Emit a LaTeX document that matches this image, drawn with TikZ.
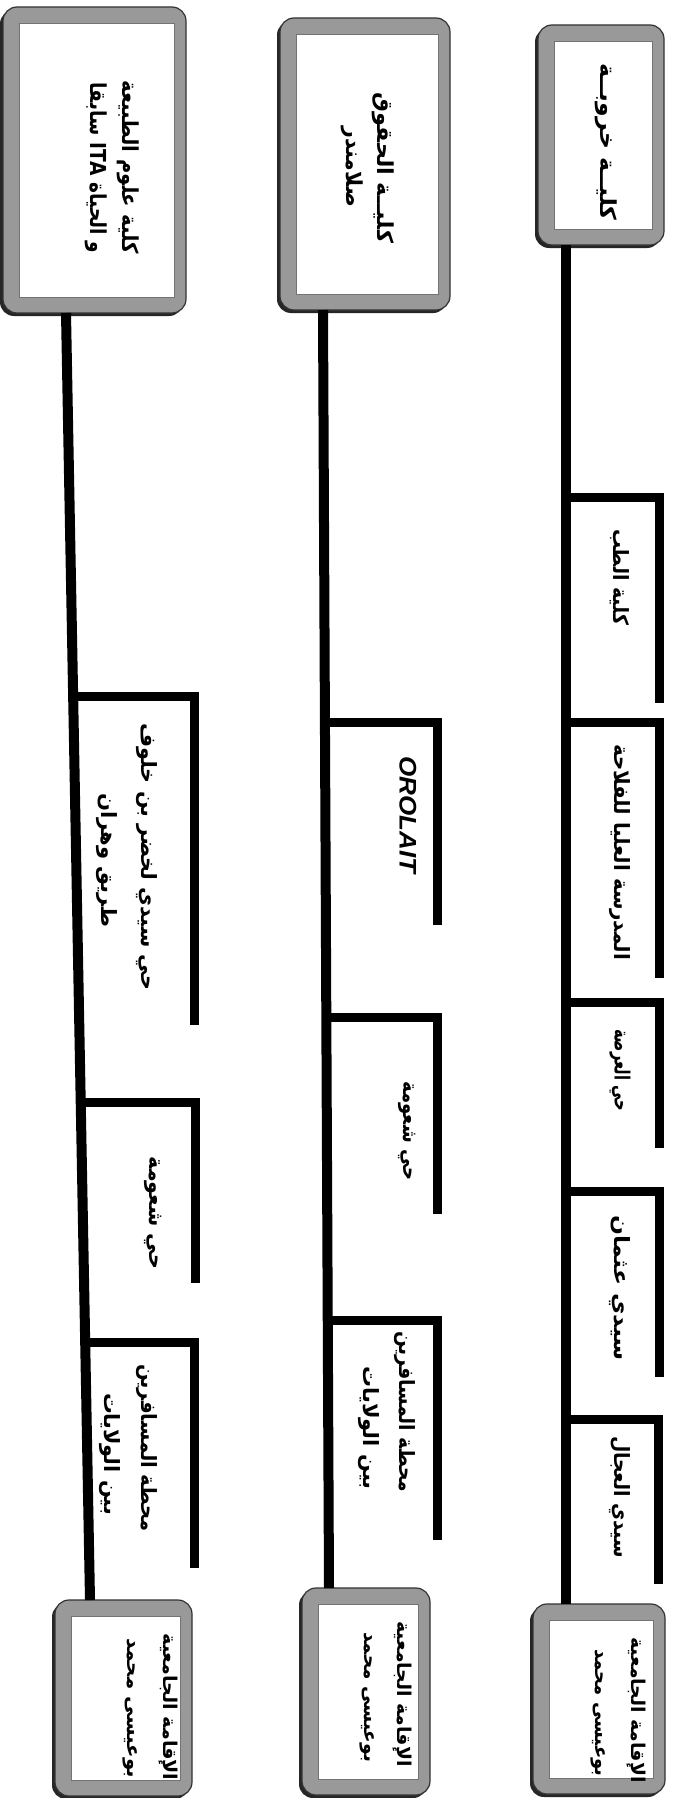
\documentclass[tikz,border=0pt]{standalone}
\usepackage{fontspec}
\usepackage{graphicx}
\TeXXeTstate=1
\newfontfamily\arabicfont[Script=Arabic]{DejaVu Sans}
\newfontfamily\latinfont{Liberation Sans}
\newcommand\ar[1]{\beginR #1\endR}
% stretch a text horizontally to a given length (in pt = px)
\newcommand\fitw[2]{\sbox0{#2}\pgfmathsetmacro\fitsx{#1/\the\wd0}\scalebox{\fitsx}[1]{\usebox0}}
\tikzset{
  frame/.style={draw=black!80, line width=1.2pt, fill=black!40, rounded corners=14pt, inner sep=0pt},
  whitein/.style={draw=black!55, line width=0.8pt, fill=white, inner sep=0pt},
  rail/.style={line width=10pt, black, line cap=butt},
  tick/.style={line width=9pt, black, line cap=butt, line join=miter},
  lbl/.style={rotate=-90, font=\arabicfont\bfseries\fontsize{21}{25}\selectfont, inner sep=0pt},
  toplbl/.style={rotate=-90, font=\arabicfont\bfseries\fontsize{22}{26}\selectfont, inner sep=0pt},
  botlbl/.style={rotate=-90, font=\arabicfont\bfseries\fontsize{19}{23}\selectfont, inner sep=0pt},
  latlbl/.style={rotate=-90, font=\latinfont\bfseries\itshape\fontsize{24}{28}\selectfont, inner sep=0pt},
}
\newcommand\stopbox[5]{%
  \fill[black!85, rounded corners=14pt] ({#2-3},{#3+3}) rectangle ({#4-3},{#5+3});
  \node[frame, minimum width={(#4-#2)*1pt}, minimum height={(#5-#3)*1pt}] (#1) at ({(#2+#4)/2},{(#3+#5)/2}) {};
  \node[whitein, minimum width={(#4-#2-28)*1pt}, minimum height={(#5-#3-32)*1pt}] (#1i) at ({(#2+#4)/2+2},{(#3+#5)/2}) {};
}
\begin{document}
\begin{tikzpicture}[x=1pt,y=-1pt]
\useasboundingbox (0,0) rectangle (679,1798);
\fill[white] (0,0) rectangle (679,1798);

% ---------------- Column A (right) ----------------
\stopbox{tA}{538}{25}{664}{245}
\stopbox{bA}{533}{1604}{665}{1794}
\coordinate (a0) at (566,245);
\coordinate (a9) at (566,1604);
\draw[rail] (a0) -- (a9);
\coordinate (a1s) at (566,497);  \coordinate (a1e) at (659,703);
\coordinate (a2s) at (566,722);  \coordinate (a2e) at (659,978);
\coordinate (a3s) at (566,1002); \coordinate (a3e) at (659,1148);
\coordinate (a4s) at (566,1191); \coordinate (a4e) at (659,1377);
\coordinate (a5s) at (566,1419); \coordinate (a5e) at (658,1584);
\foreach \i in {1,...,5} {\draw[tick] (a\i s) -| (a\i e);}
\node[toplbl] (tAt) at (606,142) {\fitw{157}{\ar{كليــة خروبــة}}};
\node[lbl] (la1) at (620,577) {\fitw{96}{\ar{كلية الطب}}};
\node[lbl] (la2) at (620,852) {\fitw{216}{\ar{المدرسة العليا للفلاحة}}};
\node[lbl] (la3) at (620,1070) {\fitw{82}{\ar{حي العرصة}}};
\node[lbl] (la4) at (620,1288) {\fitw{146}{\ar{سيدي عثمان}}};
\node[lbl] (la5) at (620,1497) {\fitw{122}{\ar{سيدي العجال}}};
\node[botlbl] (bAt1) at (636,1710) {\fitw{145}{\ar{الإقامة الجامعية}}};
\node[botlbl] (bAt2) at (598,1713) {\fitw{127}{\ar{بوعيسى محمد}}};

% ---------------- Column B (middle) ----------------
\stopbox{tB}{280}{18}{450}{310}
\stopbox{bB}{302}{1588}{430}{1795}
\coordinate (b0) at (323,310);
\coordinate (b9) at (329,1588);
\draw[rail] (b0) -- (b9);
\coordinate (b1s) at (324,722);  \coordinate (b1e) at (437,925);
\coordinate (b2s) at (325,1017); \coordinate (b2e) at (437,1214);
\coordinate (b3s) at (327,1320); \coordinate (b3e) at (437,1540);
\foreach \i in {1,2,3} {\draw[tick] (b\i s) -| (b\i e);}
\node[toplbl] (tBt1) at (383,168) {\fitw{150}{\ar{كليــة الحقوق}}};
\node[toplbl] (tBt2) at (352,167) {\fitw{80}{\ar{صلامندر}}};
\node[latlbl] (lb1) at (408,815) {\fitw{117}{OROLAIT}};
\node[lbl] (lb2) at (407,1131) {\fitw{99}{\ar{حي شعومة}}};
\node[lbl] (lb3a) at (405,1412) {\fitw{161}{\ar{محطة المسافرين}}};
\node[lbl] (lb3b) at (369,1428) {\fitw{123}{\ar{بين الولايات}}};
\node[botlbl] (bBt1) at (402,1694) {\fitw{145}{\ar{الإقامة الجامعية}}};
\node[botlbl] (bBt2) at (367,1697) {\fitw{130}{\ar{بوعيسى محمد}}};

% ---------------- Column C (left) ----------------
\stopbox{tC}{3}{7}{186}{313}
\stopbox{bC}{55}{1600}{192}{1796}
\coordinate (c0) at (66,313);
\coordinate (c9) at (90,1600);
\draw[rail] (c0) -- (c9);
\coordinate (c1s) at (73,696);   \coordinate (c1e) at (194,1025);
\coordinate (c2s) at (81,1102);  \coordinate (c2e) at (195,1283);
\coordinate (c3s) at (85,1342);  \coordinate (c3e) at (194,1568);
\foreach \i in {1,2,3} {\draw[tick] (c\i s) -| (c\i e);}
\node[toplbl] (tCt1) at (128,167) {\fitw{173}{\ar{كلية علوم الطبيعة}}};
\node[toplbl] (tCt2) at (96,168) {\fitw{170}{\ar{و الحياة \beginL ITA\endL{} سابقا}}};
\node[lbl] (lc1a) at (147,857) {\fitw{267}{\ar{حي سيدي لخضر بن خلوف}}};
\node[lbl] (lc1b) at (107,860) {\fitw{134}{\ar{طريق وهران}}};
\node[lbl] (lc2) at (153,1213) {\fitw{113}{\ar{حي شعومة}}};
\node[lbl] (lc3a) at (147,1448) {\fitw{168}{\ar{محطة المسافرين}}};
\node[lbl] (lc3b) at (110,1454) {\fitw{122}{\ar{بين الولايات}}};
\node[botlbl] (bCt1) at (168,1707) {\fitw{147}{\ar{الإقامة الجامعية}}};
\node[botlbl] (bCt2) at (130,1708) {\fitw{140}{\ar{بوعيسى محمد}}};
\end{tikzpicture}
\end{document}
